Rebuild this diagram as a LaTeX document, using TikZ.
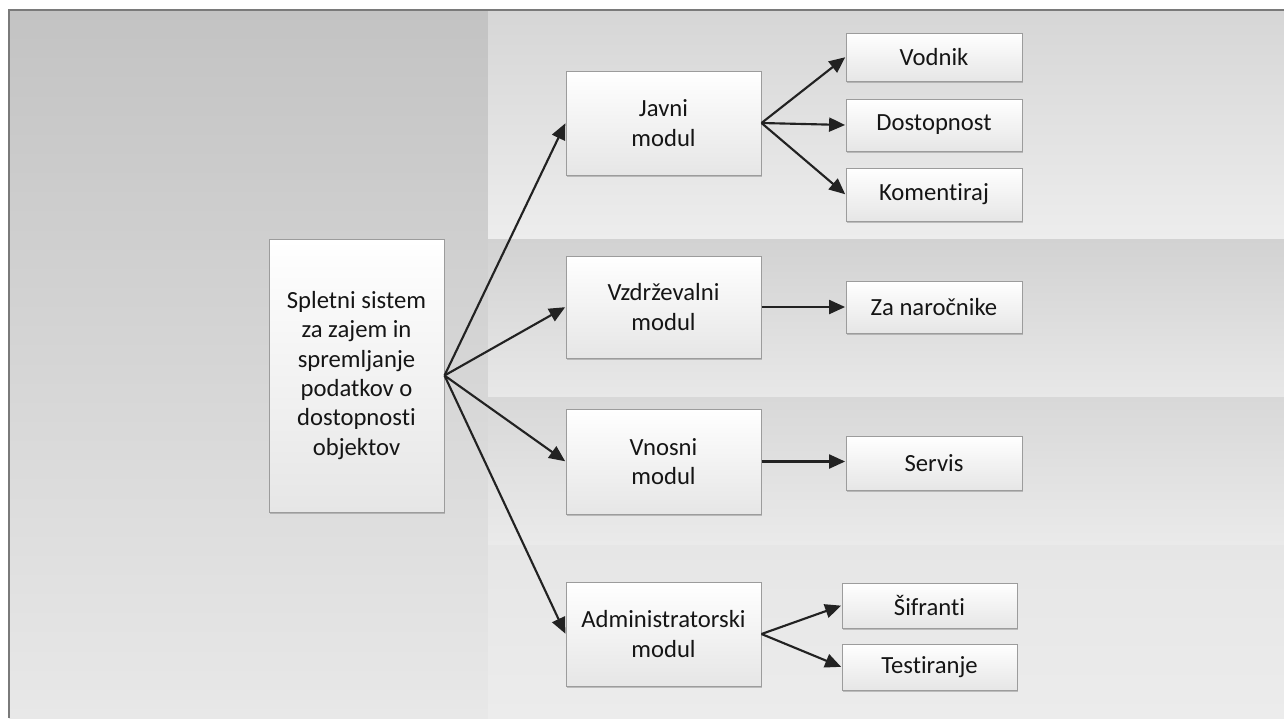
\documentclass[tikz,border=0pt]{standalone}
\usepackage{fontspec}
\setmainfont{Carlito}[Ligatures=NoCommon]
\usetikzlibrary{arrows.meta,shadows}
\definecolor{framec}{HTML}{7A7A7A}
\definecolor{boxline}{HTML}{9C9C9C}
\definecolor{boxbot}{HTML}{E6E6E6}
\definecolor{txt}{HTML}{151515}
\definecolor{arr}{HTML}{222222}
\tikzset{
  box/.style={draw=boxline, line width=0.75pt, top color=white, bottom color=boxbot,
    inner sep=0pt, align=center, text=txt,
    font=\fontsize{18.5}{22}\selectfont,
    drop shadow={shadow xshift=0.9pt, shadow yshift=-1.2pt, opacity=0.35, fill=black!60}},
  conn/.style={draw=arr, line width=1.6pt, -{Triangle[length=12pt,width=10.5pt]}, shorten >=0.3pt},
}
\begin{document}
\begin{tikzpicture}[x=0.75pt,y=-0.75pt]
\useasboundingbox (0,0) rectangle (1284,718);
\fill[white] (0,0) rectangle (1284,718);
% background regions
\fill[top color={rgb,255:red,195;green,195;blue,195}, bottom color={rgb,255:red,232;green,232;blue,232}] (9,10) rectangle (488,718);
\fill[top color={rgb,255:red,214;green,214;blue,214}, bottom color={rgb,255:red,237;green,237;blue,237}] (488,10) rectangle (1284,239);
\fill[top color={rgb,255:red,210;green,210;blue,210}, bottom color={rgb,255:red,232;green,232;blue,232}] (488,239) rectangle (1284,397);
\fill[top color={rgb,255:red,216;green,216;blue,216}, bottom color={rgb,255:red,234;green,234;blue,234}] (488,397) rectangle (1284,545);
\fill[top color={rgb,255:red,230;green,230;blue,230}, bottom color={rgb,255:red,236;green,236;blue,236}] (488,545) rectangle (1284,718);
\draw[framec, line width=0.9pt] (9,718) -- (9,10) -- (1284,10);

% nodes
\node[box, minimum width=131.25pt, minimum height=204.75pt] (main) at (356.5,375.5)
  {Spletni sistem\\za zajem in\\spremljanje\\podatkov o\\dostopnosti\\objektov};
\node[box, minimum width=146.25pt, minimum height=78pt] (jav) at (663.5,123) {Javni\\modul};
\node[box, minimum width=146.25pt, minimum height=76.5pt] (vzd) at (663.5,307) {Vzdrževalni\\modul};
\node[box, minimum width=146.25pt, minimum height=78.75pt] (vno) at (663.5,461.5) {Vnosni\\modul};
\node[box, minimum width=146.25pt, minimum height=78pt] (adm) at (663.5,634) {Administratorski\\modul};

\node[box, minimum width=132pt, minimum height=36pt] (vod) at (934,57) {Vodnik};
\node[box, minimum width=132pt, minimum height=39pt] (dos) at (934,125) {Dostopnost};
\node[box, minimum width=132pt, minimum height=39.75pt] (kom) at (934,194.5) {Komentiraj};
\node[box, minimum width=132pt, minimum height=39pt] (zan) at (934,307) {Za naročnike};
\node[box, minimum width=132pt, minimum height=40.5pt] (ser) at (934,463) {Servis};
\node[box, minimum width=131.25pt, minimum height=33.75pt] (sif) at (929.5,605.5) {Šifranti};
\node[box, minimum width=131.25pt, minimum height=34.5pt] (tes) at (929.5,667) {Testiranje};

% connectors
\draw[conn] (main.east) -- (jav.west);
\draw[conn] (main.east) -- (vzd.west);
\draw[conn] (main.east) -- (vno.west);
\draw[conn] (main.east) -- (adm.west);
\draw[conn] (jav.east) -- (vod.west);
\draw[conn] (jav.east) -- (dos.west);
\draw[conn] (jav.east) -- (kom.west);
\draw[conn] (vzd.east) -- (zan.west);
\draw[conn] (vno.east) -- (ser.west |- vno.east);
\draw[conn] (adm.east) -- (sif.west);
\draw[conn] (adm.east) -- (tes.west);
\end{tikzpicture}
\end{document}
